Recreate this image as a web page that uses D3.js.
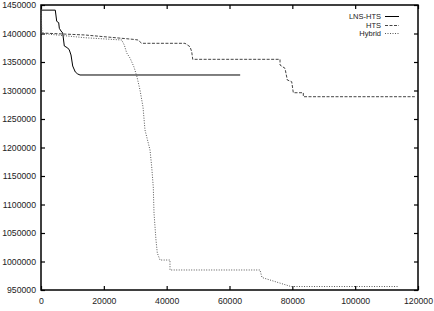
<!DOCTYPE html>
<html>
<head>
<meta charset="utf-8">
<script src="https://cdn.jsdelivr.net/npm/d3@7"></script>
<style>
  body { margin: 0; background: #fff; }
  svg { display: block; }
</style>
</head>
<body>
<svg width="434" height="311"></svg>
<script>
// series values (time, objective)
lnsX = [0, 4550, 5000, 5630, 5830, 6370, 6910, 7420, 8500, 9010, 9550, 10090, 10920, 11680, 12410, 63400]
lnsY = [1441000, 1441000, 1421400, 1419000, 1409100, 1404400, 1400900, 1378100, 1374600, 1371100, 1362300, 1343000, 1332500, 1329000, 1327200, 1327200]

htsX = [0, 14000, 29280, 30870, 32050, 45840, 47430, 47970, 48290, 76080, 76080, 77670, 78400, 79800, 80310, 83490, 83490, 119000]
htsY = [1400900, 1397400, 1389800, 1388600, 1382800, 1382800, 1376800, 1368100, 1354700, 1354700, 1344700, 1338900, 1318400, 1315400, 1296100, 1296100, 1289100, 1289100]

hybX = [0, 300, 14000, 25690, 26510, 27280, 28330, 29600, 30560, 31510, 32470, 33100, 34700, 35240, 35740, 35970, 36600, 37020, 37880, 41060, 41060, 69710, 70340, 79580, 113600]
hybY = [1441000, 1400000, 1392600, 1388600, 1379800, 1365800, 1357000, 1341200, 1323700, 1300900, 1271000, 1230700, 1195600, 1165800, 1130700, 1085100, 1037700, 1014900, 1002600, 1002600, 985100, 985100, 971900, 956100, 956100]

seriesNames = ["LNS-HTS", "HTS", "Hybrid"]
xTicks = [0, 20000, 40000, 60000, 80000, 100000, 120000]
yTicks = [950000, 1000000, 1050000, 1100000, 1150000, 1200000, 1250000, 1300000, 1350000, 1400000, 1450000]

margin = {left: 41, right: 16, top: 5, bottom: 21}
width = 434
height = 311

x = d3.scaleLinear().domain([0, 120000]).range([margin.left, width - margin.right])
y = d3.scaleLinear().domain([950000, 1450000]).range([height - margin.bottom, margin.top])

svg = d3.select("svg")
    .attr("font-family", "'Liberation Sans', Arial, sans-serif")

// inward ticks on all four sides, like gnuplot
function clean(g) { g.select(".domain").remove(); g.selectAll("line").attr("stroke", "#000").attr("stroke-width", 1.2); }

svg.append("g")
    .attr("transform", `translate(${margin.left},0)`)
    .call(d3.axisLeft(y).tickValues(yTicks).tickSize(-4).tickPadding(5).tickFormat(d3.format("d")))
    .call(clean)
    .call(g => g.selectAll("text").attr("font-size", 8.7).attr("fill", "#222"));

svg.append("g")
    .attr("transform", `translate(${width - margin.right},0)`)
    .call(d3.axisRight(y).tickValues(yTicks).tickSize(-4).tickFormat(""))
    .call(clean);

svg.append("g")
    .attr("transform", `translate(0,${height - margin.bottom})`)
    .call(d3.axisBottom(x).tickValues(xTicks).tickSize(-4).tickPadding(8).tickFormat(d3.format("d")))
    .call(clean)
    .call(g => g.selectAll("text").attr("font-size", 8.7).attr("fill", "#222"));

svg.append("g")
    .attr("transform", `translate(0,${margin.top})`)
    .call(d3.axisTop(x).tickValues(xTicks).tickSize(-4).tickFormat(""))
    .call(clean);

svg.append("rect")
    .attr("x", margin.left)
    .attr("y", margin.top)
    .attr("width", width - margin.left - margin.right)
    .attr("height", height - margin.top - margin.bottom)
    .attr("fill", "none")
    .attr("stroke", "#000")
    .attr("stroke-width", 1.5);

styles = [
  {stroke: "#000", dash: null},
  {stroke: "#444", dash: "3,1.5"},
  {stroke: "#555", dash: "1,1.5"}
]

series = [
  d3.zip(lnsX, lnsY),
  d3.zip(htsX, htsY),
  d3.zip(hybX, hybY)
]

line = d3.line().x(d => x(d[0])).y(d => y(d[1]))

svg.append("g")
  .selectAll("path")
  .data(series)
  .join("path")
    .attr("fill", "none")
    .attr("stroke", (d, i) => styles[i].stroke)
    .attr("stroke-width", 1)
    .attr("stroke-dasharray", (d, i) => styles[i].dash)
    .attr("d", line);

// legend
legend = svg.append("g")
  .selectAll("g")
  .data(seriesNames)
  .join("g")
    .attr("transform", (d, i) => `translate(0,${Math.round(16 + i * 8.7) + 0.5})`);

legend.append("text")
    .attr("x", 381)
    .attr("dy", "0.33em")
    .attr("text-anchor", "end")
    .attr("font-size", 7.5)
    .attr("fill", "#222")
    .text(d => d);

legend.append("line")
    .attr("x1", 385)
    .attr("x2", 399)
    .attr("stroke", (d, i) => styles[i].stroke)
    .attr("stroke-width", 1)
    .attr("stroke-dasharray", (d, i) => styles[i].dash);
</script>
</body>
</html>
